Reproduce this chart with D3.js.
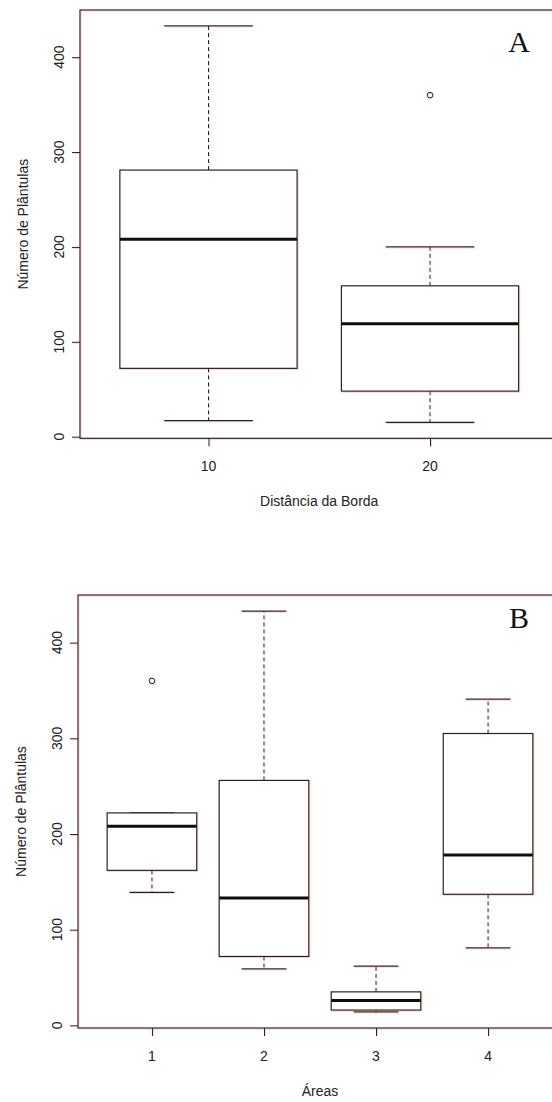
<!DOCTYPE html>
<html>
<head>
<meta charset="UTF-8">
<title>Número de Plântulas - boxplots</title>
<script src="https://d3js.org/d3.v7.min.js"></script>
<style>
    body {
        margin: 0;
        background: #fff;
    }
    text {
        font-family: "Liberation Sans", Arial, sans-serif;
        fill: #222;
    }
    .letter {
        font-family: "Liberation Serif", "Times New Roman", serif;
        fill: #111;
    }
</style>
</head>
<body>
<script>
    // painel A - distancia da borda
    var catsA = ["10", "20"];
    var loA = [17, 15];
    var q1A = [72, 48];
    var medA = [208, 119];
    var q3A = [281, 159];
    var hiA = [433, 200];
    var outA = [[], [360]];

    // painel B - areas
    var catsB = ["1", "2", "3", "4"];
    var loB = [139, 59, 14, 81];
    var q1B = [162, 72, 16, 137];
    var medB = [208, 133, 26, 178];
    var q3B = [222, 256, 35, 305];
    var hiB = [222, 433, 62, 341];
    var outB = [[360], [], [], []];

    var yTicks = [0, 100, 200, 300, 400];
    var yTitle = "Número de Plântulas";

    var ink = "#242424";

    var svg = d3.select("body").append("svg")
        .attr("width", 552)
        .attr("height", 1102);

    // leve halo avermelhado como na figura escaneada
    svg.append("defs").append("filter")
        .attr("id", "halo")
        .attr("x", "-5%").attr("y", "-5%")
        .attr("width", "110%").attr("height", "110%")
        .append("feDropShadow")
        .attr("dx", 0.8).attr("dy", 0.8)
        .attr("stdDeviation", 0.4)
        .attr("flood-color", "#e0704f")
        .attr("flood-opacity", 0.35);

    function boxplot(p) {
        var n = p.cats.length;
        var all = p.lo.concat(p.hi, p.out.flat());
        var mn = d3.min(all), mx = d3.max(all);
        var pad = (mx - mn) * 0.04;

        var y = d3.scaleLinear()
            .domain([mn - pad, mx + pad])
            .range([p.bottom, p.top]);
        var x = d3.scaleLinear()
            .domain([0.5 - 0.04 * n, n + 0.5 + 0.04 * n])
            .range([p.left, p.right]);

        var g = svg.append("g").attr("filter", "url(#halo)");
        var t = svg.append("g");

        // moldura
        g.append("rect")
            .attr("x", p.left).attr("y", p.top)
            .attr("width", p.right - p.left)
            .attr("height", p.bottom - p.top)
            .attr("fill", "none")
            .attr("stroke", ink)
            .attr("stroke-width", 1.2);

        var idx = d3.range(n);
        var bw = x(0.4) - x(0);   // meia largura da caixa
        var cw = x(0.2) - x(0);   // meia largura da haste

        var b = g.selectAll(".box" + p.id)
            .data(idx)
            .enter()
            .append("g");

        // whiskers tracejados
        b.append("line")
            .attr("x1", i => x(i + 1)).attr("x2", i => x(i + 1))
            .attr("y1", i => y(p.q3[i])).attr("y2", i => y(p.hi[i]))
            .attr("stroke", ink).attr("stroke-dasharray", "4,3");
        b.append("line")
            .attr("x1", i => x(i + 1)).attr("x2", i => x(i + 1))
            .attr("y1", i => y(p.q1[i])).attr("y2", i => y(p.lo[i]))
            .attr("stroke", ink).attr("stroke-dasharray", "4,3");

        // hastes
        b.append("line")
            .attr("x1", i => x(i + 1) - cw).attr("x2", i => x(i + 1) + cw)
            .attr("y1", i => y(p.hi[i])).attr("y2", i => y(p.hi[i]))
            .attr("stroke", ink).attr("stroke-width", 1.2);
        b.append("line")
            .attr("x1", i => x(i + 1) - cw).attr("x2", i => x(i + 1) + cw)
            .attr("y1", i => y(p.lo[i])).attr("y2", i => y(p.lo[i]))
            .attr("stroke", ink).attr("stroke-width", 1.2);

        // caixas
        b.append("rect")
            .attr("x", i => x(i + 1) - bw)
            .attr("width", 2 * bw)
            .attr("y", i => y(p.q3[i]))
            .attr("height", i => y(p.q1[i]) - y(p.q3[i]))
            .attr("fill", "#fff")
            .attr("stroke", ink)
            .attr("stroke-width", 1.2);

        // medianas
        b.append("line")
            .attr("x1", i => x(i + 1) - bw).attr("x2", i => x(i + 1) + bw)
            .attr("y1", i => y(p.med[i])).attr("y2", i => y(p.med[i]))
            .attr("stroke", "#111").attr("stroke-width", 3);

        // outliers
        b.selectAll("circle")
            .data(i => p.out[i].map(v => [i, v]))
            .enter()
            .append("circle")
            .attr("cx", d => x(d[0] + 1))
            .attr("cy", d => y(d[1]))
            .attr("r", 2.8)
            .attr("fill", "none")
            .attr("stroke", ink);

        // eixo y
        var ya = g.append("g")
            .attr("transform", "translate(" + p.left + ",0)")
            .call(d3.axisLeft(y).tickValues(yTicks).tickSize(8).tickSizeOuter(0));
        ya.select(".domain").remove();
        ya.selectAll("line").attr("stroke", ink);
        ya.selectAll("text").remove();
        t.selectAll(".yl" + p.id)
            .data(yTicks)
            .enter()
            .append("text")
            .attr("transform", d => "translate(" + (p.left - 16.5) + "," + y(d) + ") rotate(-90)")
            .attr("text-anchor", "middle")
            .style("font-size", "14px")
            .text(d => d);

        // eixo x
        var xa = g.append("g")
            .attr("transform", "translate(0," + p.bottom + ")")
            .call(d3.axisBottom(x).tickValues(idx.map(i => i + 1))
                .tickSize(8).tickSizeOuter(0));
        xa.select(".domain").remove();
        xa.selectAll("line").attr("stroke", ink);
        xa.selectAll("text").remove();
        t.selectAll(".xl" + p.id)
            .data(idx)
            .enter()
            .append("text")
            .attr("x", i => x(i + 1))
            .attr("y", p.bottom + 33)
            .attr("text-anchor", "middle")
            .style("font-size", "14px")
            .text(i => p.cats[i]);

        // titulos
        t.append("text")
            .attr("x", (p.left + p.right) / 2)
            .attr("y", p.bottom + 67.5)
            .attr("text-anchor", "middle")
            .style("font-size", "14px")
            .text(p.xTitle);

        t.append("text")
            .attr("transform", "translate(" + (p.left - 52.5) + "," + ((p.top + p.bottom) / 2) + ") rotate(-90)")
            .attr("text-anchor", "middle")
            .style("font-size", "14px")
            .text(yTitle);

        t.append("text")
            .attr("class", "letter")
            .attr("x", 519)
            .attr("y", p.letterY)
            .attr("text-anchor", "middle")
            .style("font-size", "30px")
            .text(p.letter);
    }

    boxplot({
        id: "A", cats: catsA, lo: loA, q1: q1A, med: medA, q3: q3A, hi: hiA, out: outA,
        left: 80, right: 558.5, top: 10, bottom: 438.3,
        xTitle: "Distância da Borda", letter: "A", letterY: 52
    });

    boxplot({
        id: "B", cats: catsB, lo: loB, q1: q1B, med: medB, q3: q3B, hi: hiB, out: outB,
        left: 78, right: 562, top: 595, bottom: 1028,
        xTitle: "Áreas", letter: "B", letterY: 628
    });
</script>
</body>
</html>
